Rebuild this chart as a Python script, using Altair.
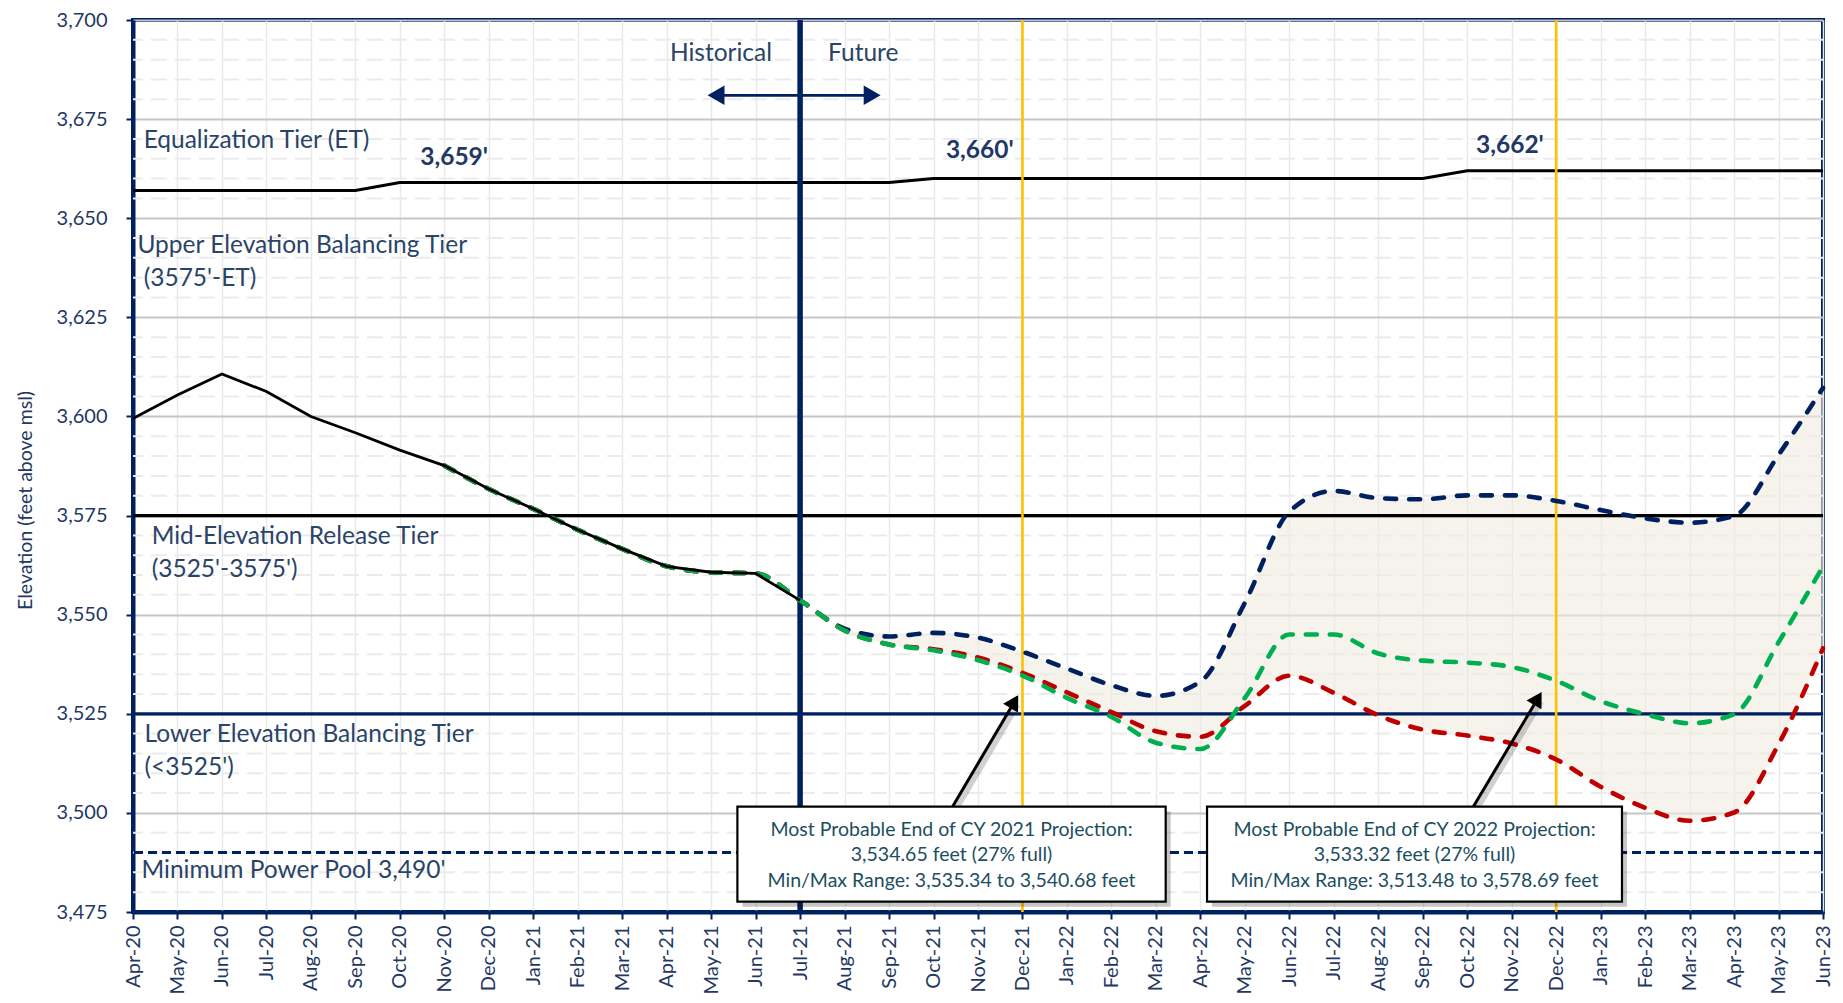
import json
import math
import pandas as pd
import altair as alt

# ---------------- data ----------------
months = ["Apr-20", "May-20", "Jun-20", "Jul-20", "Aug-20", "Sep-20", "Oct-20", "Nov-20", "Dec-20",
          "Jan-21", "Feb-21", "Mar-21", "Apr-21", "May-21", "Jun-21", "Jul-21", "Aug-21", "Sep-21",
          "Oct-21", "Nov-21", "Dec-21", "Jan-22", "Feb-22", "Mar-22", "Apr-22", "May-22", "Jun-22",
          "Jul-22", "Aug-22", "Sep-22", "Oct-22", "Nov-22", "Dec-22", "Jan-23", "Feb-23", "Mar-23",
          "Apr-23", "May-23", "Jun-23"]

# historical elevation, Apr-20 .. Jul-21
hist = [3599.5, 3605.4, 3610.7, 3606.3, 3600.0, 3595.9, 3591.5, 3587.6, 3581.7,
        3576.7, 3571.4, 3566.6, 3562.2, 3560.7, 3560.4, 3553.6]

# projections, Nov-20 .. Jun-23
proj_start = 7
max_proj = [3587.6, 3581.7, 3576.7, 3571.4, 3566.6, 3562.2, 3560.7, 3560.4, 3553.6,
            3546.5, 3544.5, 3545.4, 3544.2, 3540.68, 3536.4, 3532.2, 3529.5, 3533.1, 3553.0,
            3576.0, 3581.2, 3579.4, 3579.1, 3580.1, 3580.1, 3578.69, 3576.4, 3574.3, 3573.2,
            3574.9, 3590.3, 3607.2]
most_prob = [3587.6, 3581.7, 3576.7, 3571.4, 3566.6, 3562.2, 3560.7, 3560.4, 3553.6,
             3546.0, 3542.5, 3541.0, 3538.5, 3534.65, 3529.0, 3524.2, 3517.7, 3516.1, 3529.0,
             3545.0, 3545.0, 3540.2, 3538.4, 3537.9, 3536.8, 3533.32, 3528.2, 3524.9, 3522.6,
             3524.9, 3543.0, 3562.2]
min_proj = [3587.6, 3581.7, 3576.7, 3571.4, 3566.6, 3562.2, 3560.7, 3560.4, 3553.6,
            3546.0, 3542.5, 3541.3, 3539.2, 3535.34, 3530.4, 3525.4, 3520.6, 3519.2, 3527.0,
            3534.6, 3530.3, 3524.6, 3521.0, 3519.5, 3517.5, 3513.48, 3506.6, 3501.3, 3498.0,
            3500.1, 3517.3, 3541.5]

# equalization tier elevation, Apr-20 .. Jun-23
et_tier = [3657] * 6 + [3659] * 12 + [3660] * 12 + [3662] * 9
et_labels = ["3,659'", "3,660'", "3,662'"]

tier_lines = [3575, 3525]
min_power_pool = 3490
divide_month = 15          # Jul-21 : historical / future
cy_end_months = [20, 32]   # Dec-21, Dec-22

tier_texts = ["Equalization Tier (ET)", "Upper Elevation Balancing Tier", "(3575'-ET)",
              "Mid-Elevation Release Tier", "(3525'-3575')", "Lower Elevation Balancing Tier",
              "(<3525')", "Minimum Power Pool 3,490'"]

ann_texts = [
    ["Most Probable End of CY 2021 Projection:", "3,534.65  feet (27% full)",
     "Min/Max Range: 3,535.34 to 3,540.68 feet"],
    ["Most Probable End of CY 2022 Projection:", "3,533.32 feet (27% full)",
     "Min/Max Range: 3,513.48 to 3,578.69 feet"],
]

# ---------------- layout / style ----------------
FONT = "Lato"
NAVY = "#002060"
TXT = "#1F3864"
TIER_TXT = "#2A4468"
ANN_TXT = "#1D4E5E"
W, H = 1690, 892
X_DOM = [0, len(months) - 1]
Y_DOM = [3475, 3700]
PPM = W / (X_DOM[1] - X_DOM[0])
PPU = H / (Y_DOM[1] - Y_DOM[0])

x_axis = alt.Axis(values=list(range(len(months))),
                  labelExpr=f"{json.dumps(months)}[datum.value]",
                  labelAngle=270, labelFont=FONT, labelFontSize=20, labelColor=TXT,
                  labelPadding=6, labelOverlap=False, labelFlush=False,
                  tickColor=NAVY, tickSize=7, tickWidth=2,
                  domainColor=NAVY, domainWidth=4,
                  grid=True, gridColor="#E9E9E9", gridWidth=1.5, title=None)
y_axis = alt.Axis(values=list(range(3475, 3701, 25)), format=",.0f",
                  labelFont=FONT, labelFontSize=20, labelColor=TXT, labelPadding=19,
                  labelOverlap=False, labelFlush=False,
                  tickColor=NAVY, tickSize=7, tickWidth=2,
                  domainColor=NAVY, domainWidth=4,
                  grid=True, gridColor="#C6C6C6", gridWidth=2,
                  title="Elevation (feet above msl)", titleFont=FONT, titleFontSize=19.5,
                  titleFontWeight="normal", titleColor=TXT, titleAngle=270,
                  titleX=-108, titleY=480, titleAlign="center", titleBaseline="middle")


def X(field):
    return alt.X(field, type="quantitative",
                 scale=alt.Scale(domain=X_DOM, nice=False, zero=False), axis=x_axis)


def Y(field):
    return alt.Y(field, type="quantitative",
                 scale=alt.Scale(domain=Y_DOM, nice=False, zero=False), axis=y_axis)


# ---------------- frames ----------------
hist_df = pd.DataFrame({"i": range(len(hist)), "v": hist})
proj_rows = []
for name, vals in [("max", max_proj), ("min", min_proj), ("most", most_prob)]:
    for k, v in enumerate(vals):
        proj_rows.append({"i": proj_start + k, "v": v, "s": name})
proj_df = pd.DataFrame(proj_rows)

area_rows = []
for k in range(len(max_proj)):
    i = proj_start + k
    if i >= divide_month:
        trio = [max_proj[k], min_proj[k], most_prob[k]]
        area_rows.append({"i": i, "lo": min(trio), "hi": max(trio)})
area_df = pd.DataFrame(area_rows)

et_df = pd.DataFrame({"i": range(len(et_tier)), "v": et_tier})
minor_df = pd.DataFrame({"v": [v for v in range(3480, 3700, 5) if v % 25 != 0]})

# ---------------- layers ----------------
minor_grid = alt.Chart(minor_df).mark_rule(color="#EBEBEB", strokeWidth=2, strokeDash=[16, 8]).encode(
    y=Y("v"))

band = alt.Chart(area_df).mark_area(color="#EEEBE0", opacity=0.6, interpolate="monotone").encode(
    x=X("i"), y=Y("lo"), y2=alt.Y2("hi"))

tier_df = pd.DataFrame({"v": tier_lines, "c": ["black", NAVY]})
tiers = alt.Chart(tier_df).mark_rule(strokeWidth=3.2).encode(
    y=Y("v"), color=alt.Color("c:N", scale=None))
mpp = alt.Chart(pd.DataFrame({"v": [min_power_pool]})).mark_rule(
    strokeWidth=3, color=NAVY, strokeDash=[9, 5]).encode(y=Y("v"))

et_line = alt.Chart(et_df).mark_line(color="black", strokeWidth=3).encode(x=X("i"), y=Y("v"))

et_lab_df = pd.DataFrame({"x": [7.22, 19.04, 30.96], "y": [3665.3, 3667.0, 3668.2], "t": et_labels})
et_text = alt.Chart(et_lab_df).mark_text(font=FONT, fontSize=24.5, fontWeight="bold", color=TXT).encode(
    x=X("x"), y=Y("y"), text="t:N")

vline_div = alt.Chart(pd.DataFrame({"i": [divide_month]})).mark_rule(color=NAVY, strokeWidth=5.5).encode(
    x=X("i"))
vline_cy = alt.Chart(pd.DataFrame({"i": cy_end_months})).mark_rule(color="#FFC000", strokeWidth=2.6).encode(
    x=X("i"))

proj = alt.Chart(proj_df).mark_line(strokeDash=[11, 13], strokeCap="round", strokeWidth=4.6,
                                    interpolate="monotone").encode(
    x=X("i"), y=Y("v"),
    color=alt.Color("s:N", scale=alt.Scale(domain=["max", "min", "most"],
                                           range=[NAVY, "#C00000", "#00B050"]), legend=None),
    order=alt.Order("i:Q"), detail="s:N")

hist_line = alt.Chart(hist_df).mark_line(color="black", strokeWidth=2.8).encode(
    x=X("i"), y=Y("v"))

tier_pos = pd.DataFrame({
    "x": [0.24, 0.10, 0.24, 0.42, 0.42, 0.26, 0.26, 0.19],
    "y": [3669.5, 3642.9, 3634.7, 3569.6, 3561.3, 3519.6, 3511.4, 3485.4],
    "t": tier_texts})
tier_text = alt.Chart(tier_pos).mark_text(font=FONT, fontSize=24.5, color=TIER_TXT, align="left",
                                          baseline="middle").encode(x=X("x"), y=Y("y"), text="t:N")

hf_df = pd.DataFrame({"x": [13.22, 16.42], "y": [3691.4, 3691.4], "t": ["Historical", "Future"]})
hf_text = alt.Chart(hf_df).mark_text(font=FONT, fontSize=24.5, color=TIER_TXT, baseline="middle").encode(
    x=X("x"), y=Y("y"), text="t:N")

hf_y = 3681.0
hf_left, hf_right = 12.93, 16.80
hf_rule = alt.Chart(pd.DataFrame({"a": [hf_left + 0.2], "b": [hf_right - 0.2], "y": [hf_y]})).mark_rule(
    color=NAVY, strokeWidth=2.8).encode(x=X("a"), x2=alt.X2("b"), y=Y("y"))
head_off = 8 / PPM
hf_heads = alt.Chart(pd.DataFrame({"x": [hf_left + head_off, hf_right - head_off], "y": [hf_y, hf_y],
                                   "sh": ["triangle-left", "triangle-right"]})).mark_point(
    filled=True, size=380, color=NAVY, opacity=1).encode(
    x=X("x"), y=Y("y"), shape=alt.Shape("sh:N", scale=None))

# annotation boxes
boxes = [(13.59, 23.22), (24.15, 33.48)]
box_top, box_bot = 3501.6, 3477.6
box_df = pd.DataFrame({"x": [b[0] for b in boxes], "x2": [b[1] for b in boxes],
                       "y": [box_top] * 2, "y2": [box_bot] * 2})
box_shadow = alt.Chart(box_df).mark_rect(color="#000000", opacity=0.22, xOffset=5, yOffset=5,
                                         x2Offset=5, y2Offset=5).encode(
    x=X("x"), x2=alt.X2("x2"), y=Y("y"), y2=alt.Y2("y2"))
box_rect = alt.Chart(box_df).mark_rect(fill="white", stroke="black", strokeWidth=2.2).encode(
    x=X("x"), x2=alt.X2("x2"), y=Y("y"), y2=alt.Y2("y2"))
ann_df = pd.DataFrame({"x": [(b[0] + b[1]) / 2 for b in boxes], "y": [3495.8, 3495.8],
                       "t": ["\n".join(t) for t in ann_texts]})
ann_text = alt.Chart(ann_df).mark_text(font=FONT, fontSize=19.5, color=ANN_TXT, lineBreak="\n",
                                       lineHeight=25.5, baseline="middle").encode(
    x=X("x"), y=Y("y"), text="t:N")

# arrows from the boxes to the curves
arrows = [((18.43, box_top), (19.91, 3529.8)), ((30.14, box_top), (31.68, 3530.6))]
arrow_rows, head_rows = [], []
for (sx, sy), (tx, ty) in arrows:
    dxp = (tx - sx) * PPM
    dyp = (ty - sy) * PPU
    L = math.hypot(dxp, dyp)
    ang = math.degrees(math.atan2(dxp, dyp)) % 360
    back = 8.0
    hx = tx - back * dxp / L / PPM
    hy = ty - back * dyp / L / PPU
    arrow_rows.append({"x": sx, "y": sy, "x2": hx, "y2": hy})
    head_rows.append({"x": hx, "y": hy, "a": ang})
arrow_df = pd.DataFrame(arrow_rows)
head_df = pd.DataFrame(head_rows)
arrow_shadow = alt.Chart(arrow_df).mark_rule(color="#000000", opacity=0.18, strokeWidth=6,
                                            xOffset=3, yOffset=3, x2Offset=3, y2Offset=3).encode(
    x=X("x"), y=Y("y"), x2=alt.X2("x2"), y2=alt.Y2("y2"))
arrow_line = alt.Chart(arrow_df).mark_rule(color="black", strokeWidth=3).encode(
    x=X("x"), y=Y("y"), x2=alt.X2("x2"), y2=alt.Y2("y2"))
arrow_head = alt.Chart(head_df).mark_point(shape="triangle-up", filled=True, size=300,
                                           color="black", opacity=1).encode(
    x=X("x"), y=Y("y"), angle=alt.Angle("a:Q", scale=None))

chart = alt.layer(
    minor_grid, band, tiers, mpp, et_line, et_text, vline_cy, vline_div,
    proj, hist_line, tier_text, hf_text, hf_rule, hf_heads,
    arrow_shadow, arrow_line, arrow_head, box_shadow, box_rect, ann_text,
).properties(
    width=W, height=H,
    autosize=alt.AutoSizeParams(type="none"),
    padding={"left": 125, "top": 12, "right": 10, "bottom": 84},
).configure(font=FONT).configure_view(stroke=NAVY, strokeWidth=4)

chart.save("out.html", embed_options={"renderer": "svg", "actions": False})
